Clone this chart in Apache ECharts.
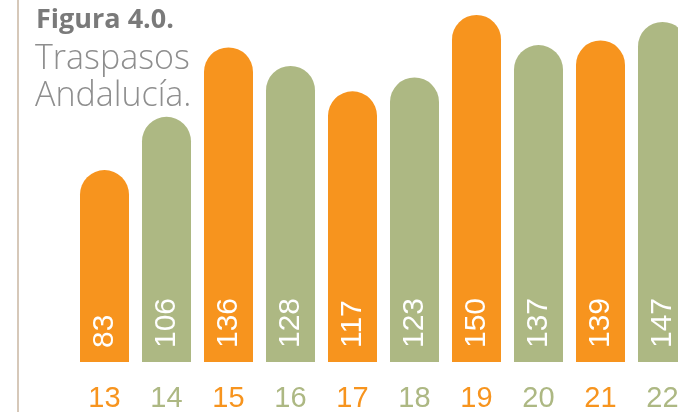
<!DOCTYPE html>
<html>
<head>
<meta charset="utf-8">
<script src="https://cdn.jsdelivr.net/npm/echarts@6/dist/echarts.min.js"></script>
<style>
  html, body { margin: 0; padding: 0; background: #fff; }
  #chart { width: 678px; height: 412px; }
</style>
</head>
<body>
<div id="chart"></div>
<script>
// Traspasos Andalucía, 2013-2022
var years = ['13', '14', '15', '16', '17', '18', '19', '20', '21', '22'];
var traspasos = [83, 106, 136, 128, 117, 123, 150, 137, 139, 147];

var ORANGE = '#f7941e';
var GREEN = '#adb883';

function colorFor(i) {
  return i % 2 === 0 ? ORANGE : GREEN;
}

var chart = echarts.init(document.getElementById('chart'));

chart.setOption({
  animation: false,
  // last bar runs off the right edge, like the original
  grid: { left: 73.5, width: 620, top: 15, bottom: 43, outerBoundsMode: 'none' },
  xAxis: {
    type: 'category',
    data: years,
    axisLine: { show: false },
    axisTick: { show: false },
    axisLabel: {
      margin: 15,
      fontSize: 29,
      fontFamily: 'Liberation Sans',
      color: function (value, index) { return colorFor(index); }
    }
  },
  yAxis: {
    type: 'value',
    min: -3,
    max: 150,
    show: false,
    splitLine: { show: false }
  },
  series: [{
    type: 'bar',
    barWidth: 49,
    data: traspasos.map(function (v, i) {
      return { value: v, itemStyle: { color: colorFor(i) } };
    }),
    itemStyle: { borderRadius: [25, 25, 0, 0] },
    label: {
      show: true,
      position: 'insideBottom',
      distance: 14,
      rotate: 90,
      align: 'left',
      verticalAlign: 'middle',
      color: '#fff',
      fontSize: 30,
      fontFamily: 'Liberation Sans'
    }
  }],
  graphic: [
    { type: 'rect', shape: { x: 17, y: 0, width: 2, height: 412 }, style: { fill: '#d6c8b9' } },
    { type: 'text', style: { x: 36, y: 7, text: 'Figura 4.0.', font: 'bold 27px "Open Sans"', fill: '#7a7a7a' } },
    { type: 'text', style: { x: 35, y: 42, text: 'Traspasos', font: '300 34px "Open Sans"', fill: '#8e8e8e' } },
    { type: 'text', style: { x: 35, y: 79, text: 'Andalucía.', font: '300 34px "Open Sans"', fill: '#8e8e8e' } }
  ]
});
</script>
</body>
</html>
